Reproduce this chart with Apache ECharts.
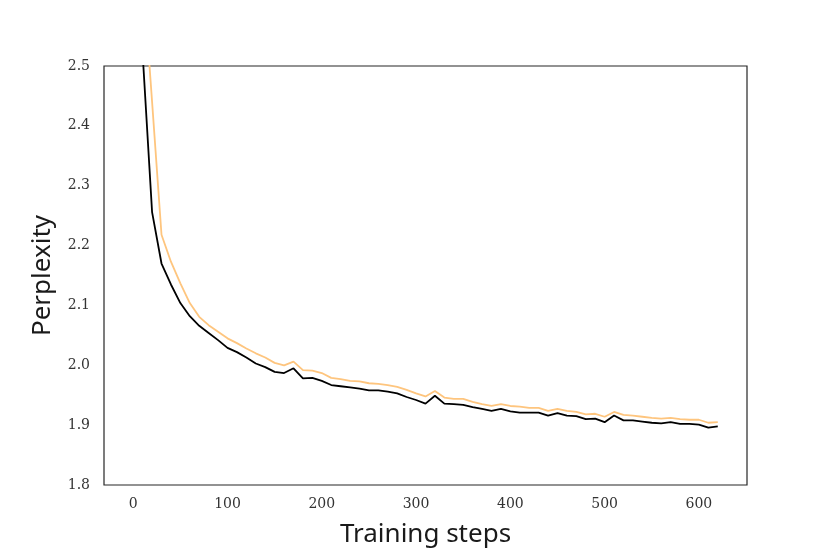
<!DOCTYPE html>
<html>
<head>
<meta charset="utf-8">
<script src="https://cdn.jsdelivr.net/npm/echarts@6/dist/echarts.min.js"></script>
<style>
  html, body { margin: 0; padding: 0; background: #fff; }
  #chart { width: 830px; height: 554px; }
</style>
</head>
<body>
<div id="chart"></div>
<script>
  // training steps (every 10)
  var steps = [];
  for (var s = 0; s <= 620; s += 10) steps.push(s);

  var xTicks = [0, 100, 200, 300, 400, 500, 600];

  // black curve
  var blackPpl = [
    3.0, 2.52, 2.256, 2.170, 2.135, 2.104, 2.082, 2.066, 2.054, 2.042,
    2.029, 2.022, 2.013, 2.003, 1.997, 1.989, 1.987, 1.995, 1.978, 1.979,
    1.974, 1.967, 1.965, 1.963, 1.961, 1.958, 1.958, 1.956, 1.953, 1.947,
    1.942, 1.936, 1.949, 1.936, 1.935, 1.934, 1.930, 1.927, 1.924, 1.927,
    1.923, 1.921, 1.921, 1.921, 1.916, 1.920, 1.916, 1.915, 1.910, 1.911,
    1.905, 1.916, 1.908, 1.908, 1.906, 1.904, 1.903, 1.905, 1.902, 1.902,
    1.901, 1.896, 1.898
  ];

  // orange curve
  var orangePpl = [
    3.3, 2.66, 2.44, 2.218, 2.173, 2.137, 2.104, 2.081, 2.067, 2.056,
    2.045, 2.037, 2.028, 2.020, 2.013, 2.004, 2.000, 2.006, 1.992, 1.991,
    1.987, 1.979, 1.977, 1.974, 1.973, 1.970, 1.969, 1.967, 1.964, 1.959,
    1.953, 1.948, 1.957, 1.946, 1.944, 1.944, 1.939, 1.935, 1.932, 1.935,
    1.932, 1.931, 1.929, 1.929, 1.924, 1.927, 1.924, 1.922, 1.918, 1.919,
    1.914, 1.922, 1.917, 1.916, 1.914, 1.912, 1.911, 1.912, 1.910, 1.909,
    1.909, 1.904, 1.905
  ];

  function pairs(ys) {
    return steps.map(function (x, i) { return [x, ys[i]]; });
  }

  var tickFont = { fontFamily: 'DejaVu Serif', fontSize: 14, color: '#333' };
  var titleFont = { fontFamily: 'Noto Sans', fontSize: 26, color: '#1a1a1a' };

  var myChart = echarts.init(document.getElementById('chart'));
  myChart.setOption({
    animation: false,
    backgroundColor: '#fff',
    grid: {
      left: 104, top: 66, right: 83, bottom: 69,
      show: true, borderColor: '#262626', borderWidth: 1.2
    },
    xAxis: {
      type: 'value',
      min: -31, max: 651,
      name: 'Training steps',
      nameLocation: 'middle',
      nameGap: 37,
      nameTextStyle: titleFont,
      axisLine: { show: false },
      axisTick: { show: false },
      splitLine: { show: false },
      axisLabel: Object.assign({ customValues: xTicks, margin: 12 }, tickFont)
    },
    yAxis: {
      type: 'value',
      min: 1.8, max: 2.5, interval: 0.1,
      name: 'Perplexity',
      nameLocation: 'middle',
      nameGap: 48,
      nameTextStyle: titleFont,
      axisLine: { show: false },
      axisTick: { show: false },
      splitLine: { show: false },
      axisLabel: Object.assign({
        margin: 14,
        formatter: function (v) { return v.toFixed(1); }
      }, tickFont)
    },
    series: [
      {
        name: 'orange', type: 'line', data: pairs(orangePpl),
        showSymbol: false, clip: true,
        lineStyle: { color: '#fec57e', width: 1.8 }
      },
      {
        name: 'black', type: 'line', data: pairs(blackPpl),
        showSymbol: false, clip: true,
        lineStyle: { color: '#000', width: 1.8 }
      }
    ]
  });
</script>
</body>
</html>
